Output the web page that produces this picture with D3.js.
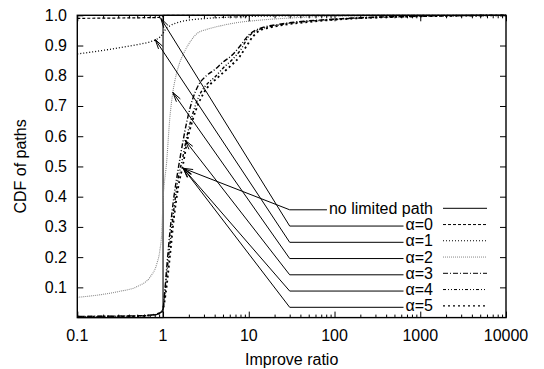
<!DOCTYPE html>
<html><head><meta charset="utf-8">
<script src="https://cdn.jsdelivr.net/npm/d3@7"></script>
<style>
body{margin:0;background:#fff}
svg{display:block}
text{font-family:"Liberation Sans",Arial,Helvetica,sans-serif;font-size:16px;fill:#000}
</style>
</head><body>
<svg id="c" width="544" height="369"></svg>
<script>
// ---------- data ----------
const xTicks = [0.1, 1, 10, 100, 1000, 10000];
const xTickLabels = ["0.1", "1", "10", "100", "1000", "10000"];
const yTicks = [0.1, 0.2, 0.3, 0.4, 0.5, 0.6, 0.7, 0.8, 0.9, 1.0];
const yTickLabels = ["0.1", "0.2", "0.3", "0.4", "0.5", "0.6", "0.7", "0.8", "0.9", "1.0"];
const seriesNames = ["no limited path", "α=0", "α=1", "α=2", "α=3", "α=4", "α=5"];

const noLimitX = [0.1, 1, 1, 10000];
const noLimitY = [0.0, 0.0, 1.0, 1.0];

const a0X = [0.1, 0.3, 0.6, 0.9, 0.97, 1.0, 1.05, 10000];
const a0Y = [0.990, 0.991, 0.992, 0.993, 0.995, 0.999, 1.0, 1.0];

const a1X = [0.1, 0.2, 0.3, 0.5, 0.7, 0.81, 0.92, 1.0, 1.06, 1.2, 1.4, 1.6, 2.0, 3.3, 6, 13, 100, 10000];
const a1Y = [0.872, 0.884, 0.892, 0.903, 0.912, 0.918, 0.928, 0.940, 0.952, 0.965, 0.974, 0.979, 0.984, 0.990, 0.994, 0.997, 0.999, 1.0];

const a2X = [0.1, 0.2, 0.3, 0.51, 0.71, 0.85, 0.92, 0.97, 1.0, 1.04, 1.09, 1.2, 1.3, 1.38, 1.55, 1.74, 2.1, 2.5, 3.2, 4.2, 7, 13.5, 30, 95, 1000, 10000];
const a2Y = [0.067, 0.077, 0.086, 0.104, 0.135, 0.18, 0.224, 0.29, 0.39, 0.45, 0.50, 0.66, 0.745, 0.786, 0.84, 0.874, 0.915, 0.94, 0.953, 0.962, 0.975, 0.984, 0.991, 0.997, 0.999, 1.0];

const a3X = [0.1, 0.5, 0.8, 0.95, 1.0, 1.05, 1.1, 1.2, 1.34, 1.5, 1.7, 1.9, 2.2, 2.6, 3.2, 4, 5, 6.5, 8, 10, 13, 25, 96, 580, 10000];
const a3Y = [0.004, 0.006, 0.010, 0.018, 0.030, 0.090, 0.160, 0.280, 0.400, 0.490, 0.580, 0.650, 0.720, 0.770, 0.800, 0.820, 0.845, 0.870, 0.900, 0.935, 0.955, 0.972, 0.987, 0.996, 1.0];

const a4X = [0.1, 0.5, 0.8, 0.95, 1.0, 1.05, 1.1, 1.2, 1.34, 1.5, 1.7, 1.9, 2.2, 2.6, 3.2, 4, 5, 6.5, 8, 10, 13, 25, 96, 580, 10000];
const a4Y = [0.003, 0.005, 0.009, 0.016, 0.028, 0.080, 0.140, 0.240, 0.360, 0.460, 0.530, 0.600, 0.670, 0.730, 0.770, 0.795, 0.825, 0.855, 0.885, 0.930, 0.952, 0.970, 0.986, 0.995, 1.0];

const a5X = [0.1, 0.5, 0.8, 0.95, 1.0, 1.08, 1.2, 1.34, 1.5, 1.72, 1.9, 2.25, 2.94, 3.5, 4.2, 5, 6, 7.9, 9.5, 11.2, 13.5, 18, 25, 50, 96, 580, 10000];
const a5Y = [0.003, 0.005, 0.010, 0.018, 0.028, 0.085, 0.200, 0.330, 0.430, 0.510, 0.580, 0.660, 0.740, 0.770, 0.790, 0.810, 0.830, 0.865, 0.900, 0.930, 0.950, 0.960, 0.968, 0.978, 0.985, 0.995, 1.0];

// annotation arrows: kink x (data) and target points (data)
const arrowKinkX = 30;
const arrowTargetX = [1.72, 0.94, 0.81, 1.30, 1.80, 1.72, 1.72];
const arrowTargetY = [0.494, 0.99, 0.92, 0.745, 0.587, 0.494, 0.494];

// ---------- layout ----------
const plot = {l: 77.3, r: 506, t: 15.3, b: 317.6};
const x = d3.scaleLog().domain([0.1, 10000]).range([plot.l, plot.r]);
const y = d3.scaleLinear().domain([0, 1]).range([plot.b, plot.t]);

const styles = [
  {stroke: "#000", dash: null, w: 1, cw: 1.1},
  {stroke: "#000", dash: "3,2", w: 1, cw: 1.2},
  {stroke: "#000", dash: "1,2", w: 1.1, cw: 1.3},
  {stroke: "#888", dash: "1,1", w: 1, cw: 1.1},
  {stroke: "#000", dash: "5,2,1,2", w: 1, cw: 1.4},
  {stroke: "#000", dash: "3,2,1,2,1,2", w: 1, cw: 1.4},
  {stroke: "#000", dash: "2,3", w: 1.3, cw: 1.8}
];
const seriesX = [noLimitX, a0X, a1X, a2X, a3X, a4X, a5X];
const seriesY = [noLimitY, a0Y, a1Y, a2Y, a3Y, a4Y, a5Y];

const svg = d3.select("#c");
svg.append("defs").append("clipPath").attr("id", "clip")
  .append("rect").attr("x", plot.l).attr("y", plot.t - 1)
  .attr("width", plot.r - plot.l).attr("height", plot.b - plot.t + 2);

// curves
const gCurves = svg.append("g").attr("clip-path", "url(#clip)");
seriesX.forEach((xs, i) => {
  const pts = xs.map((v, k) => [v, seriesY[i][k]]);
  const line = d3.line().x(d => x(d[0])).y(d => y(d[1]))
    .curve(i === 0 ? d3.curveLinear : d3.curveMonotoneX);
  gCurves.append("path").attr("d", line(pts)).attr("fill", "none")
    .attr("stroke", styles[i].stroke).attr("stroke-width", styles[i].cw)
    .attr("stroke-dasharray", styles[i].dash);
});

// axes (ticks inside, mirrored)
const majorLen = 6, minorLen = 3;
const minorX = [];
for (let d = 0.1; d < 10000; d *= 10) for (let m = 2; m <= 9; m++) minorX.push(+(d * m).toPrecision(3));
const xb = d3.axisBottom(x).tickValues(xTicks).tickSize(-majorLen).tickFormat(() => "");
const xt = d3.axisTop(x).tickValues(xTicks).tickSize(-majorLen).tickFormat(() => "");
const xbm = d3.axisBottom(x).tickValues(minorX).tickSize(-minorLen).tickFormat(() => "");
const xtm = d3.axisTop(x).tickValues(minorX).tickSize(-minorLen).tickFormat(() => "");
const yl = d3.axisLeft(y).tickValues(yTicks).tickSize(-majorLen).tickFormat(() => "");
const yr = d3.axisRight(y).tickValues(yTicks).tickSize(-majorLen).tickFormat(() => "");
[[xb, `translate(0,${plot.b})`], [xbm, `translate(0,${plot.b})`], [xt, `translate(0,${plot.t})`], [xtm, `translate(0,${plot.t})`],
 [yl, `translate(${plot.l},0)`], [yr, `translate(${plot.r},0)`]].forEach(([ax, tr]) => {
  const g = svg.append("g").attr("transform", tr).call(ax);
  g.select(".domain").remove();
  g.selectAll("line").attr("stroke", "#000");
});
svg.append("rect").attr("x", plot.l).attr("y", plot.t).attr("width", plot.r - plot.l)
  .attr("height", plot.b - plot.t).attr("fill", "none").attr("stroke", "#000").attr("stroke-width", 1.4);

// tick labels
xTicks.forEach((v, i) => {
  svg.append("text").attr("x", x(v)).attr("y", 341).attr("text-anchor", "middle").text(xTickLabels[i]);
});
yTicks.forEach((v, i) => {
  svg.append("text").attr("x", 67).attr("y", y(v) + 5.5).attr("text-anchor", "end").text(yTickLabels[i]);
});
// axis titles
svg.append("text").attr("x", (plot.l + plot.r) / 2).attr("y", 365).attr("text-anchor", "middle").text("Improve ratio");
svg.append("text").attr("transform", `translate(26,${(plot.t + plot.b) / 2}) rotate(-90)`)
  .attr("text-anchor", "middle").text("CDF of paths");

// legend with annotation arrows
const legendTextRight = 433, sampleL = 443, sampleR = 487, rowY0 = 208.3, rowH = 16.25;
const kx = x(arrowKinkX);
seriesNames.forEach((name, i) => {
  const ry = rowY0 + i * rowH;
  const t = svg.append("text").attr("x", legendTextRight).attr("y", ry + 5.5)
    .attr("text-anchor", "end").text(name);
  const tl = legendTextRight - t.node().getComputedTextLength() - 2;
  svg.append("line").attr("x1", sampleL).attr("x2", sampleR).attr("y1", ry).attr("y2", ry)
    .attr("stroke", styles[i].stroke).attr("stroke-width", styles[i].w).attr("stroke-dasharray", styles[i].dash);
  // connector
  const tx = x(arrowTargetX[i]), ty = y(arrowTargetY[i]);
  const ky = ry + 1.5;
  svg.append("polyline").attr("points", `${tl},${ky} ${kx},${ky} ${tx},${ty}`)
    .attr("fill", "none").attr("stroke", "#000").attr("stroke-width", 1);
  const ang = Math.atan2(ty - ky, tx - kx);
  const hl = 10, ha = 14 * Math.PI / 180;
  const p1 = [tx - hl * Math.cos(ang - ha), ty - hl * Math.sin(ang - ha)];
  const p2 = [tx - hl * Math.cos(ang + ha), ty - hl * Math.sin(ang + ha)];
  svg.append("polyline").attr("points", `${p1[0]},${p1[1]} ${tx},${ty} ${p2[0]},${p2[1]}`)
    .attr("fill", "none").attr("stroke", "#000").attr("stroke-width", 1);
});
</script>
</body></html>
